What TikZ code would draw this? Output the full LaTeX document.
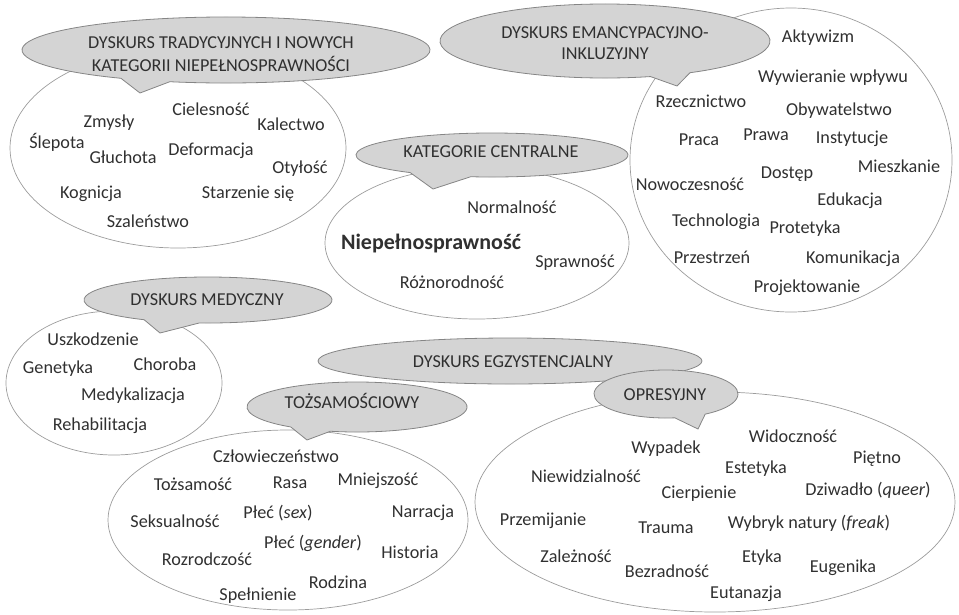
\documentclass[tikz,border=0pt]{standalone}
\usepackage{fontspec}
\setmainfont{Carlito}
\usetikzlibrary{calc}
\definecolor{bubfill}{HTML}{D4D4D4}
\definecolor{bubline}{HTML}{858585}
\definecolor{ellline}{HTML}{9C9C9C}
\definecolor{txt}{HTML}{303030}
% #1 cx, #2 cy, #3 rx, #4 ry, #5 start angle, #6 end angle, #7 tip
\newcommand{\speechbubble}[7]{%
  \filldraw[bubble] ($(#1,#2)+(#5:#3 and #4)$) arc[start angle=#5, end angle=#6, x radius=#3, y radius=#4] -- #7 -- cycle;}
\begin{document}
\begin{tikzpicture}[x=1pt,y=1pt,
  bubble/.style={fill=bubfill, draw=bubline, line width=0.8pt},
  ell/.style={draw=ellline, line width=0.7pt},
  lbl/.style={anchor=base, yshift=-5.8pt, inner sep=0pt, text=txt, font=\fontsize{18.2}{21}\selectfont},
  head/.style={anchor=center, inner sep=0pt, text=txt, align=center, font=\fontsize{18.2}{23}\selectfont},
  big/.style={lbl, yshift=-1.3pt, font=\fontsize{22}{26}\selectfont\bfseries}]
\useasboundingbox (0,0) rectangle (959,-614);

% white ellipses
\draw[ell] (178,-148) ellipse [x radius=168, y radius=100];
\draw[ell] (791,-160) ellipse [x radius=161, y radius=152];
\draw[ell] (477,-243) ellipse [x radius=152, y radius=76];
\draw[ell] (114,-383) ellipse [x radius=108, y radius=72];
\draw[ell] (288,-520) ellipse [x radius=180, y radius=90];
\draw[ell] (715,-502) ellipse [x radius=240, y radius=110];

% speech bubbles
\speechbubble{226}{-50}{204}{33}{254}{599}{(140,-93)}
\speechbubble{605}{-41}{165}{37}{301}{646}{(677,-86)}
\speechbubble{492}{-155}{136}{22}{261}{593}{(433,-189)}
\speechbubble{208}{-300}{124}{23}{266}{599}{(160,-333)}
\filldraw[bubble] (510,-361) ellipse [x radius=192, y radius=23];
\speechbubble{357}{-407}{110}{25}{256}{593}{(307,-440)}
\speechbubble{666}{-394}{72}{24}{303}{637}{(698,-429)}

% headings
\node[head] (hTrad) at (221,-54) {DYSKURS TRADYCYJNYCH I NOWYCH\\KATEGORII NIEPEŁNOSPRAWNOŚCI};
\node[head, font=\fontsize{18.2}{21}\selectfont] (hEman) at (605,-43) {DYSKURS EMANCYPACYJNO-\\INKLUZYJNY};
\node[lbl] (hCent) at (491,-152) {KATEGORIE CENTRALNE};
\node[lbl] (hMed) at (207,-300) {DYSKURS MEDYCZNY};
\node[lbl] (hEgz) at (513,-362) {DYSKURS EGZYSTENCJALNY};
\node[lbl] (hToz) at (352,-403) {TOŻSAMOŚCIOWY};
\node[lbl] (hOpr) at (665,-395) {OPRESYJNY};

% traditional / new categories
\node[lbl] (zmysly) at (109,-122) {Zmysły};
\node[lbl] (cielesnosc) at (211,-110) {Cielesność};
\node[lbl] (kalectwo) at (291,-125) {Kalectwo};
\node[lbl] (slepota) at (57,-143) {Ślepota};
\node[lbl] (gluchota) at (123,-158) {Głuchota};
\node[lbl] (deformacja) at (211,-150) {Deformacja};
\node[lbl] (otylosc) at (300,-168) {Otyłość};
\node[lbl] (kognicja) at (91,-193) {Kognicja};
\node[lbl] (starzenie) at (248,-193) {Starzenie się};
\node[lbl] (szalenstwo) at (148,-222) {Szaleństwo};

% emancipatory
\node[lbl] (aktywizm) at (818,-37) {Aktywizm};
\node[lbl] (wywieranie) at (833,-77) {Wywieranie wpływu};
\node[lbl] (rzecznictwo) at (701,-102) {Rzecznictwo};
\node[lbl] (obywatelstwo) at (839,-110) {Obywatelstwo};
\node[lbl] (praca) at (699,-140) {Praca};
\node[lbl] (prawa) at (766,-135) {Prawa};
\node[lbl] (instytucje) at (852,-138) {Instytucje};
\node[lbl] (mieszkanie) at (899,-167) {Mieszkanie};
\node[lbl] (dostep) at (787,-173) {Dostęp};
\node[lbl] (nowoczesnosc) at (690,-185) {Nowoczesność};
\node[lbl] (edukacja) at (850,-200) {Edukacja};
\node[lbl] (technologia) at (716,-221) {Technologia};
\node[lbl] (protetyka) at (805,-228) {Protetyka};
\node[lbl] (przestrzen) at (712,-258) {Przestrzeń};
\node[lbl] (komunikacja) at (853,-258) {Komunikacja};
\node[lbl] (projektowanie) at (807,-287) {Projektowanie};

% central
\node[lbl] (normalnosc) at (512,-208) {Normalność};
\node[big] (niepeln) at (431,-242) {Niepełnosprawność};
\node[lbl] (sprawnosc) at (575,-262) {Sprawność};
\node[lbl] (roznorodnosc) at (452,-283) {Różnorodność};

% medical
\node[lbl] (uszkodzenie) at (93,-340) {Uszkodzenie};
\node[lbl] (genetyka) at (58,-368) {Genetyka};
\node[lbl] (choroba) at (165,-365) {Choroba};
\node[lbl] (medykalizacja) at (133,-395) {Medykalizacja};
\node[lbl] (rehabilitacja) at (100,-425) {Rehabilitacja};

% identity
\node[lbl] (czlowiecz) at (276,-457) {Człowieczeństwo};
\node[lbl] (tozsamosc) at (193,-485) {Tożsamość};
\node[lbl] (rasa) at (290,-483) {Rasa};
\node[lbl] (mniejszosc) at (378,-480) {Mniejszość};
\node[lbl] (seksualnosc) at (175,-522) {Seksualność};
\node[lbl] (plecsex) at (278,-513) {Płeć (\textit{sex})};
\node[lbl] (narracja) at (423,-512) {Narracja};
\node[lbl] (plecgender) at (313,-543) {Płeć (\textit{gender})};
\node[lbl] (historia) at (410,-553) {Historia};
\node[lbl] (rozrodczosc) at (207,-560) {Rozrodczość};
\node[lbl] (rodzina) at (338,-583) {Rodzina};
\node[lbl] (spelnienie) at (258,-595) {Spełnienie};

% oppressive
\node[lbl] (wypadek) at (666,-448) {Wypadek};
\node[lbl] (widocznosc) at (793,-437) {Widoczność};
\node[lbl] (pietno) at (877,-458) {Piętno};
\node[lbl] (estetyka) at (756,-468) {Estetyka};
\node[lbl] (niewidzialnosc) at (586,-477) {Niewidzialność};
\node[lbl] (cierpienie) at (699,-493) {Cierpienie};
\node[lbl] (dziwadlo) at (868,-490) {Dziwadło (\textit{queer})};
\node[lbl] (przemijanie) at (543,-520) {Przemijanie};
\node[lbl] (trauma) at (666,-528) {Trauma};
\node[lbl] (wybryk) at (809,-523) {Wybryk natury (\textit{freak})};
\node[lbl] (zaleznosc) at (576,-557) {Zależność};
\node[lbl] (bezradnosc) at (667,-572) {Bezradność};
\node[lbl] (etyka) at (762,-557) {Etyka};
\node[lbl] (eugenika) at (843,-567) {Eugenika};
\node[lbl] (eutanazja) at (746,-593) {Eutanazja};
\end{tikzpicture}
\end{document}
